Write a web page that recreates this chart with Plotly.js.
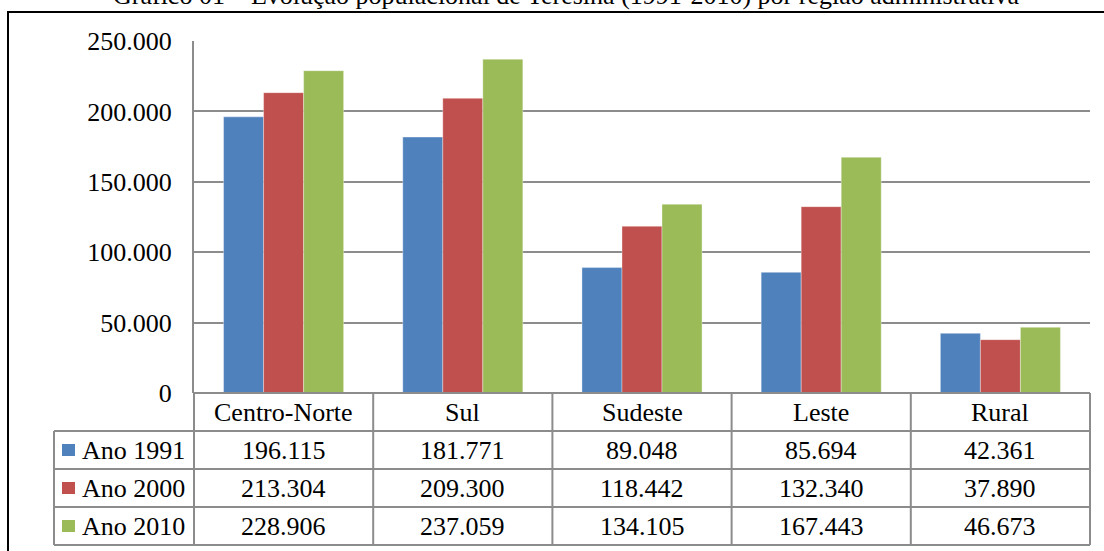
<!DOCTYPE html>
<html>
<head>
<meta charset="utf-8">
<script src="https://cdn.plot.ly/plotly-3.0.1.min.js"></script>
<style>html,body{margin:0;padding:0;background:#fff;}#chart{width:1104px;height:551px;}</style>
</head>
<body>
<div id="chart"></div>
<script>
// ---- data ----
const titleText = 'Gráfico 01 – Evolução populacional de Teresina (1991-2010) por região administrativa';
const categories = ['Centro-Norte', 'Sul', 'Sudeste', 'Leste', 'Rural'];
const seriesNames = ['Ano 1991', 'Ano 2000', 'Ano 2010'];
const values1991 = [196115, 181771, 89048, 85694, 42361];
const values2000 = [213304, 209300, 118442, 132340, 37890];
const values2010 = [228906, 237059, 134105, 167443, 46673];
const yTickVals = [0, 50000, 100000, 150000, 200000, 250000];

// ---- styling / layout ----
const colors = ['#4F81BD', '#C0504D', '#9BBB59'];
const FONT = '"Liberation Serif", "Times New Roman", serif';
const FS = 26;
const W = 1104, H = 551;
const L = 194, R = 1090, T = 41, B = 393;
const ROW = 38;
const LABEL_LEFT = 54;
const gridColor = '#8c8c8c';

const px2x = px => (px - L) / (R - L);
const py2y = py => (B - py) / (B - T);
const fmt = v => String(v).replace(/\B(?=(\d{3})+(?!\d))/g, '.');

const allValues = [values1991, values2000, values2010];

const traces = allValues.map((vals, i) => ({
  type: 'bar',
  name: seriesNames[i],
  x: categories,
  y: vals,
  marker: {color: colors[i], line: {color: 'rgba(255,255,255,0.35)', width: 1}},
  hoverinfo: 'x+y+name'
}));

const shapes = [];
const annotations = [];

// outer frame
shapes.push({type: 'rect', xref: 'paper', yref: 'paper',
  x0: px2x(8), x1: px2x(1112), y0: py2y(12), y1: py2y(560),
  line: {color: '#000', width: 2}, fillcolor: 'rgba(0,0,0,0)', layer: 'below'});

// table horizontal lines
const rowTops = [B, B + ROW, B + 2 * ROW, B + 3 * ROW, B + 4 * ROW];
rowTops.forEach((py, k) => {
  shapes.push({type: 'line', xref: 'paper', yref: 'paper',
    x0: px2x(k === 0 ? L : LABEL_LEFT), x1: 1, y0: py2y(py), y1: py2y(py),
    line: {color: gridColor, width: 2}});
});
// table vertical lines
shapes.push({type: 'line', xref: 'paper', yref: 'paper', x0: px2x(LABEL_LEFT), x1: px2x(LABEL_LEFT),
  y0: py2y(B + ROW), y1: py2y(B + 4 * ROW), line: {color: gridColor, width: 2}});
shapes.push({type: 'line', xref: 'paper', yref: 'paper', x0: 0, x1: 0,
  y0: py2y(B), y1: py2y(B + 4 * ROW), line: {color: gridColor, width: 2}});
shapes.push({type: 'line', xref: 'paper', yref: 'paper', x0: 1, x1: 1,
  y0: py2y(B), y1: py2y(B + 4 * ROW), line: {color: gridColor, width: 2}});
for (let i = 0; i < categories.length - 1; i++) {
  shapes.push({type: 'line', xref: 'x', yref: 'paper', x0: i + 0.5, x1: i + 0.5,
    y0: py2y(B), y1: py2y(B + 4 * ROW), line: {color: gridColor, width: 2}});
}

// header texts
categories.forEach(c => {
  annotations.push({xref: 'x', yref: 'paper', x: c, y: py2y(B + ROW / 2),
    text: c, showarrow: false, xanchor: 'center', yanchor: 'middle',
    font: {family: FONT, size: FS, color: '#000'}});
});
// data rows
allValues.forEach((vals, r) => {
  const cy = B + ROW * (r + 1) + ROW / 2;
  vals.forEach((v, i) => {
    annotations.push({xref: 'x', yref: 'paper', x: categories[i], y: py2y(cy),
      text: fmt(v), showarrow: false, xanchor: 'center', yanchor: 'middle',
      font: {family: FONT, size: FS, color: '#000'}});
  });
  // legend swatch + label
  shapes.push({type: 'rect', xref: 'paper', yref: 'paper',
    x0: px2x(62), x1: px2x(75), y0: py2y(cy - 6), y1: py2y(cy + 6),
    fillcolor: colors[r], line: {width: 0}});
  annotations.push({xref: 'paper', yref: 'paper', x: px2x(80), y: py2y(cy),
    text: seriesNames[r], showarrow: false, xanchor: 'left', yanchor: 'middle',
    font: {family: FONT, size: FS, color: '#000'}});
});

// title
annotations.push({xref: 'paper', yref: 'paper', x: px2x(566), y: py2y(-4),
  text: titleText, showarrow: false, xanchor: 'center', yanchor: 'middle',
  font: {family: FONT, size: FS, color: '#000'}});

const layout = {
  width: W, height: H,
  margin: {l: L, r: W - R, t: T, b: H - B, pad: 0},
  paper_bgcolor: '#fff', plot_bgcolor: '#fff',
  separators: ',.',
  showlegend: false,
  barmode: 'group',
  bargap: 0.33,
  bargroupgap: 0,
  font: {family: FONT, size: FS, color: '#000'},
  xaxis: {
    type: 'category', range: [-0.5, 4.5], showticklabels: false,
    showgrid: false, zeroline: false, showline: false, ticks: '', fixedrange: true
  },
  yaxis: {
    range: [0, 250000], tickvals: yTickVals, tickformat: ',d',
    showgrid: true, gridcolor: gridColor, gridwidth: 2,
    zeroline: false, showline: true, linecolor: gridColor, linewidth: 2,
    ticks: '', ticklabelstandoff: 15,
    tickfont: {family: FONT, size: FS, color: '#000'}, fixedrange: true
  },
  shapes: shapes,
  annotations: annotations
};

Plotly.newPlot('chart', traces, layout, {displayModeBar: false, staticPlot: true});
</script>
</body>
</html>
